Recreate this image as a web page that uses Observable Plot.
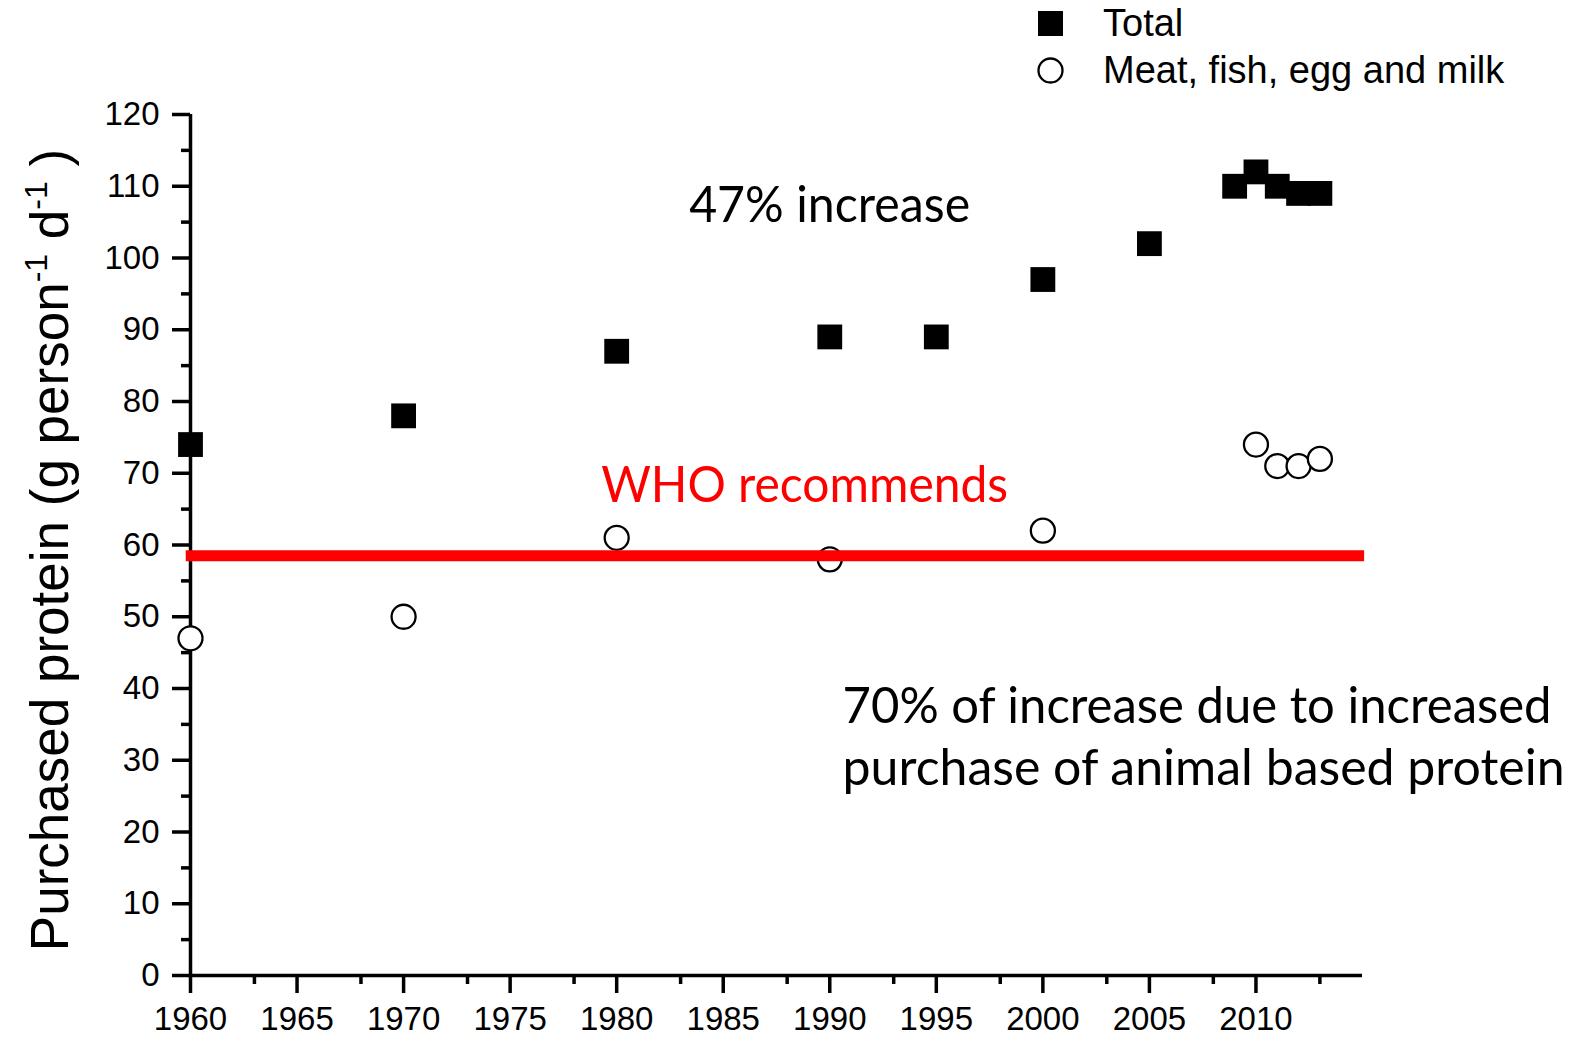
<!DOCTYPE html>
<html><head><meta charset="utf-8">
<script src="https://cdn.jsdelivr.net/npm/d3@7"></script>
<script src="https://cdn.jsdelivr.net/npm/@observablehq/plot@0.6"></script>
<style>
body{margin:0;background:#fff;}
#legend{position:relative;height:95px;width:1577px;font-family:'Liberation Sans',Arial,sans-serif;font-size:38px;color:#000;}
.row{position:absolute;left:1037px;display:flex;align-items:center;height:47px;white-space:nowrap;}
.row svg{width:27px;height:27px;margin-right:39px;flex:none;}
#chart svg{display:block;}
</style></head><body>
<div id="legend"></div>
<div id="chart"></div>
<script>
// ---- data ----
const totalYears = [1960, 1970, 1980, 1990, 1995, 2000, 2005, 2009, 2010, 2011, 2012, 2013];
const totalValues = [74, 78, 87, 89, 89, 97, 102, 110, 112, 110, 109, 109];
const animalYears = [1960, 1970, 1980, 1990, 2000, 2010, 2011, 2012, 2013];
const animalValues = [47, 50, 61, 58, 62, 74, 71, 71, 72];
const whoLevel = 58.5;
const xMajorTicks = [1960, 1965, 1970, 1975, 1980, 1985, 1990, 1995, 2000, 2005, 2010];
const xMinorTicks = [1963, 1968, 1973, 1978, 1983, 1988, 1993, 1998, 2003, 2008, 2013];
const yMajorTicks = [0, 10, 20, 30, 40, 50, 60, 70, 80, 90, 100, 110, 120];
const yMinorTicks = [5, 15, 25, 35, 45, 55, 65, 75, 85, 95, 105, 115];
const seriesNames = ["Total", "Meat, fish, egg and milk"];
const noteTexts = ["47% increase", "70% of increase due to increased", "purchase of animal based protein"];
const noteX = [1983.4, 1990.6, 1990.6];
const noteY = [104.95, 35.26, 26.55];
const whoText = "WHO recommends";
const whoTextX = 1979.27;
const whoTextY = 66.06;
const yLabelParts = [["Purchased protein (g person", false], ["-1", true], [" d", false], ["-1", true], [" )", false]];

const totalData = totalYears.map((year, i) => ({year, value: totalValues[i]}));
const animalData = animalYears.map((year, i) => ({year, value: animalValues[i]}));
const notes = noteTexts.map((text, i) => ({text, x: noteX[i], y: noteY[i]}));
const yLabel = yLabelParts.map(d => d[0]).join("");

// ---- legend (above the svg) ----
const legend = document.getElementById("legend");
seriesNames.forEach((name, i) => {
  const row = document.createElement("div");
  row.className = "row";
  row.style.top = (i * 47) + "px";
  const sym = i === 0
    ? '<svg viewBox="0 0 27 27"><rect x="1" y="1" width="25" height="25" fill="black"/></svg>'
    : '<svg viewBox="0 0 27 27"><circle cx="13.5" cy="13.5" r="12" fill="white" stroke="black" stroke-width="2.3"/></svg>';
  row.innerHTML = sym + "<span>" + name + "</span>";
  legend.appendChild(row);
});

// ---- chart ----
const annFont = "Lato, 'Open Sans', sans-serif";
const plot = Plot.plot({
  width: 1577,
  height: 942,
  marginLeft: 190,
  marginRight: 215,
  marginTop: 19,
  marginBottom: 62,
  x: {domain: [1960, 2015], axis: null},
  y: {domain: [0, 120], axis: null},
  style: {fontFamily: "'Liberation Sans', Arial, sans-serif", color: "black", background: "white", overflow: "visible"},
  marks: [
    Plot.ruleX([1960], {strokeWidth: 3.5}),
    Plot.ruleY([0], {strokeWidth: 3.5}),
    Plot.axisY(yMinorTicks, {anchor: "left", tickSize: 9, strokeWidth: 3.5, fill: "none", label: null}),
    Plot.axisY(yMajorTicks, {anchor: "left", tickSize: 18, tickPadding: 13, strokeWidth: 3.5, fontSize: 33, tickFormat: d => String(d), fill: "black", label: null}),
    Plot.axisX(xMinorTicks, {anchor: "bottom", tickSize: 9, strokeWidth: 3.5, fill: "none", label: null}),
    Plot.axisX(xMajorTicks, {anchor: "bottom", tickSize: 18, tickPadding: 13, strokeWidth: 3.5, fontSize: 33, tickFormat: d => String(d), fill: "black", label: null}),
    Plot.dot(totalData, {x: "year", y: "value", symbol: "square", r: 14, fill: "black", stroke: null}),
    Plot.dot(animalData, {x: "year", y: "value", symbol: "circle", r: 12, fill: "white", stroke: "black", strokeWidth: 2.3}),
    Plot.ruleY([whoLevel], {x1: 1959.8, x2: 2015.1, stroke: "red", strokeWidth: 11}),
    Plot.text(notes, {x: "x", y: "y", text: "text", textAnchor: "start", lineAnchor: "bottom", fontSize: 50, fontFamily: annFont, fill: "black"}),
    Plot.text([whoText], {x: () => whoTextX, y: () => whoTextY, text: d => d, textAnchor: "start", lineAnchor: "bottom", fontSize: 50, fontFamily: annFont, fill: "red"}),
    Plot.text([yLabel], {frameAnchor: "left", text: d => d, rotate: -90, textAnchor: "middle", dx: -139, dy: 5, fontSize: 53, fill: "black"})
  ]
});

// condensed annotation text (matching the narrow face of the original)
const textWidths = new Map([
  ["47% increase", 281],
  ["WHO recommends", 407],
  ["70% of increase due to increased", 709],
  ["purchase of animal based protein", 722]
]);
d3.select(plot).selectAll("text").each(function() {
  const t = this.textContent;
  if (textWidths.has(t)) {
    this.setAttribute("textLength", textWidths.get(t));
    this.setAttribute("lengthAdjust", "spacingAndGlyphs");
  }
  if (t === yLabel) {
    const el = d3.select(this);
    el.text(null);
    let shifted = false;
    yLabelParts.forEach(([s, sup]) => {
      const ts = el.append("tspan").text(s);
      if (sup) { ts.attr("font-size", 32).attr("dy", -21); shifted = true; }
      else if (shifted) { ts.attr("dy", 21); shifted = false; }
    });
  }
});

document.getElementById("chart").appendChild(plot);
</script>
</body></html>
